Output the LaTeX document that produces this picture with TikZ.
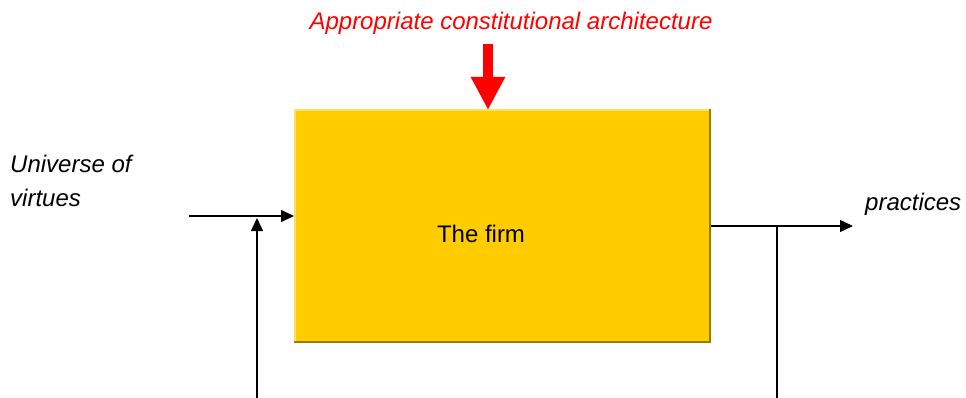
\documentclass[tikz,border=0pt]{standalone}
\usepackage{fontspec}
\setmainfont{Liberation Sans}
\usetikzlibrary{arrows.meta}
\definecolor{firmyellow}{HTML}{FFCC00}
\definecolor{firmlight}{HTML}{FFE066}
\definecolor{firmdark}{HTML}{9C7C00}
\definecolor{titlered}{HTML}{FF0000}
\tikzset{
  lbl/.style={inner sep=0pt, font=\fontsize{24}{34}\selectfont},
  flow/.style={line width=1.3pt, -{Triangle[length=13pt,width=12pt]}},
  plainline/.style={line width=1.3pt},
  bigarrow/.style={line width=10pt, titlered, -{Triangle[length=33pt,width=32pt]}, shorten >=0pt},
}
\begin{document}
\begin{tikzpicture}[x=1pt,y=-1pt]
\useasboundingbox (0,0) rectangle (966,398);
% the firm box
\node[fill=firmyellow, inner sep=0pt, minimum width=417pt, minimum height=234pt] (firm) at (502.5,226) {};
\fill[firmlight] (firm.north west) rectangle ([yshift=-2pt]firm.north east);
\fill[firmlight] (firm.north west) rectangle ([xshift=2pt]firm.south west);
\fill[firmdark] ([xshift=-2pt]firm.north east) rectangle (firm.south east);
\fill[firmdark] ([yshift=2pt]firm.south west) rectangle (firm.south east);
\node[lbl, anchor=base] (firmtext) at (481,242) {The firm};
% title and red arrow
\node[lbl, anchor=base, text=titlered, font=\fontsize{24}{34}\selectfont\itshape] (title) at (511,30) {Appropriate constitutional architecture};
\coordinate (redstart) at (488,44);
\coordinate (redtip) at (488,110);
\draw[bigarrow] (redstart) -- (redtip);
% left input
\node[lbl, anchor=base west, align=left, font=\fontsize{24}{34}\selectfont\itshape] (universe) at (10,207) {Universe of\\virtues};
\coordinate (inL) at (189,216);
\coordinate (inT) at (294,216);
\draw[flow] (inL) -- (inT);
\coordinate (fbB) at (257,398);
\coordinate (fbT) at (257,218);
\draw[flow] (fbB) -- (fbT);
% right output
\node[lbl, anchor=base west, font=\fontsize{24}{34}\selectfont\itshape] (practices) at (865,211) {practices};
\coordinate (outL) at (711,226);
\coordinate (outR) at (853,226);
\draw[flow] (outL) -- (outR);
\coordinate (fbR1) at (777,226);
\coordinate (fbR2) at (777,398);
\draw[plainline] (fbR1) -- (fbR2);
\end{tikzpicture}
\end{document}
